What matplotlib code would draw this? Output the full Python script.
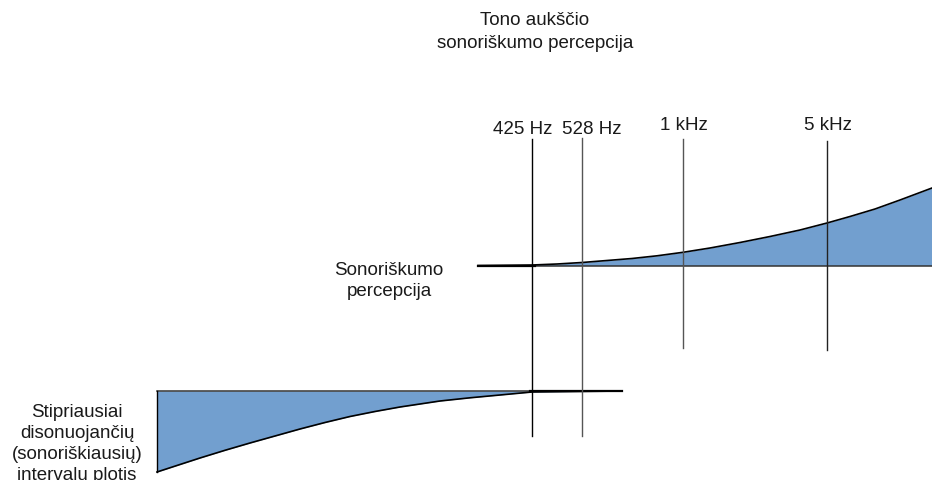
import matplotlib
matplotlib.use("Agg")
import matplotlib.pyplot as plt

plt.rcParams['font.family'] = ['Liberation Sans', 'DejaVu Sans']

# ---- data (pixel-space diagram coordinates) ----
title_text = "Tono aukščio\nsonoriškumo percepcija"
upper_label = "Sonoriškumo\npercepcija"
lower_label = "Stipriausiai\ndisonuojančių\n(sonoriškiausių)\nintervalų plotis"

freq_labels = ["425 Hz", "528 Hz", "1 kHz", "5 kHz"]
freq_x = [532, 582, 683, 827]
freq_label_x = [523, 592, 684, 828]
freq_label_y = [130, 130, 125, 125]
freq_top = [140, 139, 140, 142]
freq_bottom = [437, 437, 349, 351]
freq_colors = ["#000000", "#555555", "#555555", "#222222"]

# upper curve (sonority perception) – rising with frequency
upper_x = [478, 532, 557, 582, 607, 632, 657, 683, 710, 740, 770, 800, 827, 850, 875, 900, 932]
upper_y = [266.5, 266, 265, 263.5, 261.5, 259.5, 256.8, 253.3, 249, 243.5, 237.5, 231, 224, 217.5, 210, 201, 189]
upper_base = 266.5

# lower curve (width of the most dissonant intervals)
lower_x = [157, 180, 200, 225, 250, 275, 300, 325, 350, 375, 400, 420, 440, 470, 500, 532, 622]
lower_y = [473, 465.5, 459, 451.3, 444, 437, 430, 423.5, 417.5, 412.5, 408, 405, 402, 398.8, 396, 393, 392]
lower_base = 392

fill_color = "#729fcf"
text_color = "#1a1a1a"

fig = plt.figure(figsize=(9.32, 4.81), dpi=100)
ax = fig.add_axes([0, 0, 1, 1])
ax.set_xlim(0, 932)
ax.set_ylim(481, 0)
ax.axis('off')

# upper filled shape
ax.fill_between(upper_x, upper_y, upper_base, color=fill_color, lw=0, zorder=1)
ax.plot([upper_x[0], upper_x[-1]], [upper_base, upper_base], color="#333333", lw=1.1, zorder=2)
ax.plot(upper_x, upper_y, color="black", lw=1.2, zorder=3, solid_joinstyle='round')
ax.plot([upper_x[0], 535], [upper_base, upper_base], color="black", lw=1.6, zorder=3)

# lower filled shape
ax.fill_between(lower_x, lower_y, lower_base, color=fill_color, lw=0, zorder=1)
ax.plot([lower_x[0], lower_x[-1]], [lower_base, lower_base], color="#333333", lw=1.1, zorder=2)
ax.plot(lower_x, lower_y, color="black", lw=1.2, zorder=3, solid_joinstyle='round')
ax.plot([lower_x[0], lower_x[0]], [lower_base, lower_y[0]], color="black", lw=1.0, zorder=3)
ax.plot([530, lower_x[-1]], [lower_base, lower_base], color="black", lw=1.6, zorder=3)

# frequency markers
for x, t, b, c, lab, lx, ly in zip(freq_x, freq_top, freq_bottom, freq_colors,
                                   freq_labels, freq_label_x, freq_label_y):
    ax.plot([x, x], [t, b], color=c, lw=1.0, zorder=4)
    ax.text(lx, ly, lab, ha='center', va='center', fontsize=13.5, color=text_color)

ax.text(535, 32, title_text, ha='center', va='center', fontsize=13.5,
        color=text_color, linespacing=1.47)
ax.text(389, 281, upper_label, ha='center', va='center', fontsize=13.5,
        color=text_color, linespacing=1.35)
ax.text(77, 444, lower_label, ha='center', va='center', fontsize=13.5,
        color=text_color, linespacing=1.29)

fig.savefig("out.png", dpi=100)
